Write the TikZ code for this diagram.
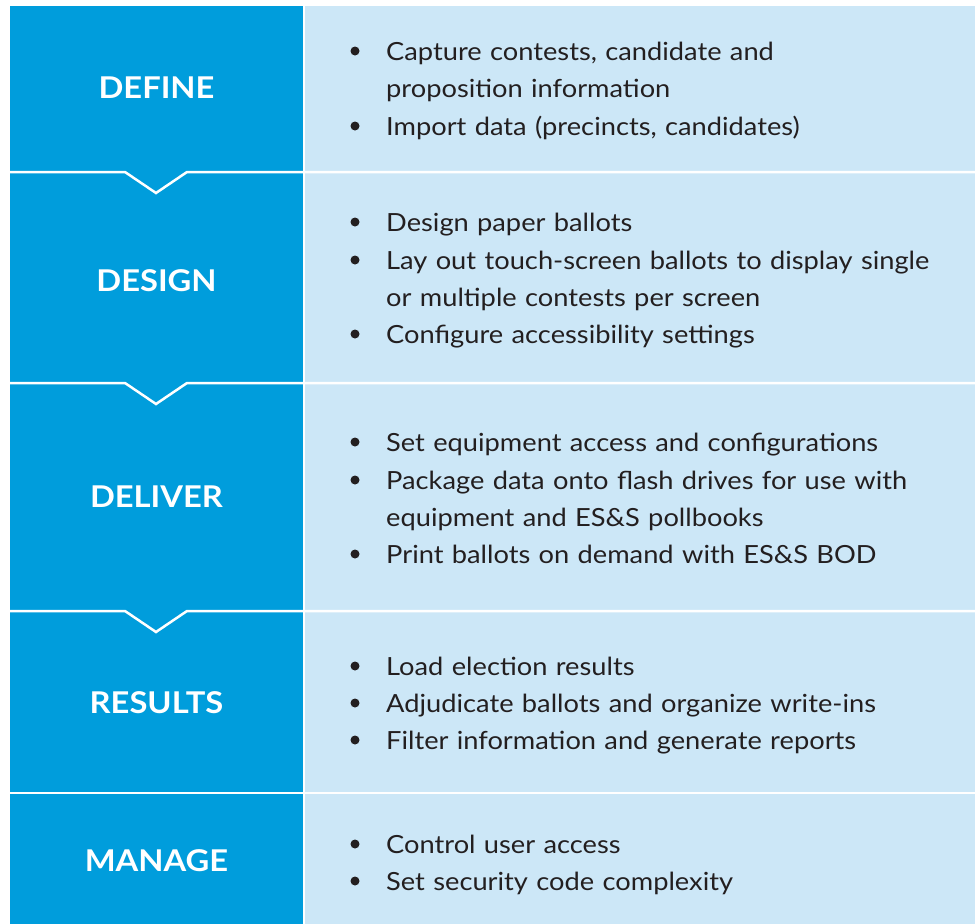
\documentclass[tikz,border=0pt]{standalone}
\usepackage{fontspec}
\newfontfamily\panelfont[FakeStretch=1.09]{Lato}
\usepackage{tikz}
\usetikzlibrary{positioning}

\definecolor{stageblue}{HTML}{009DDC}
\definecolor{notesblue}{HTML}{CCE7F7}
\definecolor{ink}{HTML}{231F20}

\tikzset{
  stage/.style={text=white, inner sep=0pt, font=\panelfont\bfseries\fontsize{30}{36}\selectfont},
  note/.style={anchor=base west, inner sep=0pt, text=ink, align=left, text width=580pt,
    font=\panelfont\fontsize{25}{37.5}\selectfont},
  dot/.style={circle, fill=ink, inner sep=0pt, minimum size=9pt},
  split/.style={white, line width=2.5pt}
}

\begin{document}
\begin{tikzpicture}[x=1pt,y=-1pt]
  \fill[white] (0,0) rectangle (978,924);
  \fill[stageblue] (10,6) rectangle (303,924);
  \fill[notesblue] (305,6) rectangle (975,924);
  % row borders, the first three notched
  \foreach \y in {172,383,611}
    \draw[split] (10,\y) -- (125,\y) -- (156,\y+21) -- (187,\y) -- (975,\y);
  \draw[split] (10,793) -- (975,793);

  \node[stage] (define) at (156.5,88) {DEFINE};
  \node[stage] (design) at (156.5,281) {DESIGN};
  \node[stage] (deliver) at (156.5,497) {DELIVER};
  \node[stage] (results) at (156.5,703) {RESULTS};
  \node[stage] (manage) at (156.5,861) {MANAGE};

  % define
  \node[note] (define-a) at (386,60) {Capture contests, candidate and\\proposition information};
  \node[note] (define-b) at (386,135) {Import data (precincts, candidates)};
  % design
  \node[note] (design-a) at (386,231) {Design paper ballots};
  \node[note] (design-b) at (386,269) {Lay out touch-screen ballots to display single\\or multiple contests per screen};
  \node[note] (design-c) at (386,343) {Configure accessibility settings};
  % deliver
  \node[note] (deliver-a) at (386,451) {Set equipment access and configurations};
  \node[note] (deliver-b) at (386,489) {Package data onto flash drives for use with\\equipment and ES\&S pollbooks};
  \node[note] (deliver-c) at (386,563) {Print ballots on demand with ES\&S BOD};
  % results
  \node[note] (results-a) at (386,675) {Load election results};
  \node[note] (results-b) at (386,712) {Adjudicate ballots and organize write-ins};
  \node[note] (results-c) at (386,749) {Filter information and generate reports};
  % manage
  \node[note] (manage-a) at (386,853) {Control user access};
  \node[note] (manage-b) at (386,890) {Set security code complexity};

  \foreach \n in {define-a,define-b,design-a,design-b,design-c,deliver-a,deliver-b,
    deliver-c,results-a,results-b,results-c,manage-a,manage-b}
    \node[dot] at ([xshift=-31pt,yshift=9pt]\n.base west) {};
\end{tikzpicture}
\end{document}
